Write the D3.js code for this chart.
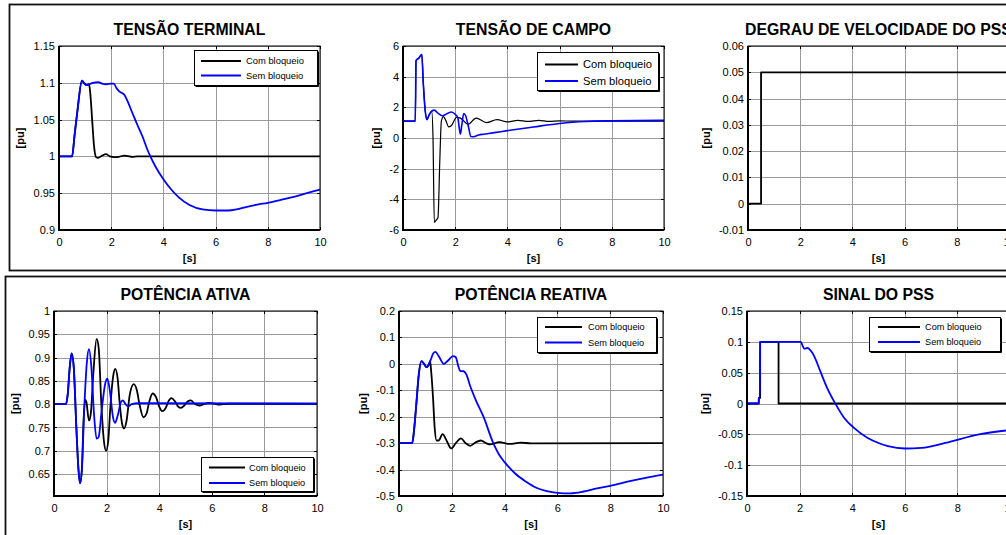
<!DOCTYPE html>
<html>
<head>
<meta charset="utf-8">
<script src="https://cdn.jsdelivr.net/npm/d3@7/dist/d3.min.js"></script>
<style>
  body { margin: 0; background: #fff; }
  svg { display: block; font-family: Arial, "Liberation Sans", sans-serif; }
</style>
</head>
<body>
<svg id="chart" width="1006" height="535"></svg>
<script>
// ---- data (time in s, value in pu) ----
const xTicks = [0, 2, 4, 6, 8, 10];
const legendNames = ["Com bloqueio", "Sem bloqueio"];

// Tensao terminal
const vtTicks = [0.9, 0.95, 1, 1.05, 1.1, 1.15];
const vtCom = [[0,1],[0.5,1],[0.6,1.03],[0.7,1.06],[0.88,1.103],[0.95,1.1],[1.05,1.097],[1.15,1.098],[1.2,1.085],
  [1.27,1.05],[1.34,1.015],[1.42,0.999],[1.5,0.998],[1.65,1.001],[1.8,1.003],[1.95,1.0],[2.1,0.999],[2.3,0.9995],
  [2.5,1.001],[2.65,1.0005],[2.8,0.9993],[3.0,1.0],[10,1.0]];
const vtSem = [[0,1],[0.5,1],[0.6,1.03],[0.7,1.06],[0.88,1.103],[0.95,1.1],[1.05,1.097],[1.15,1.098],[1.3,1.1],
  [1.5,1.101],[1.65,1.099],[1.8,1.098],[2.0,1.099],[2.1,1.099],[2.2,1.093],[2.32,1.088],[2.5,1.084],[2.6,1.077],
  [2.8,1.06],[3.0,1.043],[3.2,1.027],[3.4,1.008],[3.5,1.0],[3.7,0.986],[4.0,0.969],[4.3,0.955],[4.6,0.944],
  [5.0,0.934],[5.5,0.928],[6.0,0.9265],[6.5,0.9265],[6.8,0.928],[7.2,0.9315],[7.6,0.9345],[8.0,0.937],[8.5,0.941],
  [9.0,0.945],[9.5,0.95],[10,0.955]];

// Tensao de campo
const efdTicks = [-6, -4, -2, 0, 2, 4, 6];
const efdCom = [[0,1.1],[0.47,1.1],[0.5,5.05],[0.6,5.2],[0.72,5.45],[0.78,3.5],[0.85,1.8],[0.92,1.2],[1.0,1.5],
  [1.1,1.75],[1.15,0],[1.2,-5.5],[1.27,-5.35],[1.34,-5.2],[1.41,-1.5],[1.47,1.1],[1.55,1.4],[1.65,1.1],[1.75,0.72],
  [1.85,0.8],[2.05,1.35],[2.2,1.3],[2.5,0.9],[2.8,1.3],[3.2,1.0],[3.6,1.2],[4.0,1.05],[4.4,1.15],[4.8,1.08],
  [5.2,1.15],[5.6,1.08],[6.0,1.12],[6.5,1.1],[10,1.1]];
const efdSem = [[0,1.1],[0.47,1.1],[0.5,5.05],[0.6,5.2],[0.72,5.45],[0.78,3.5],[0.85,1.8],[0.92,1.2],[1.0,1.5],
  [1.2,1.82],[1.35,1.6],[1.5,1.45],[1.7,1.6],[1.85,1.7],[2.0,1.55],[2.1,1.33],[2.16,0.6],[2.2,0.25],[2.25,0.8],
  [2.33,1.6],[2.4,1.45],[2.5,0.8],[2.6,0.1],[2.7,0.08],[2.9,0.2],[3.1,0.25],[3.5,0.35],[4,0.48],[5,0.72],
  [6,0.95],[6.5,1.03],[7,1.08],[8,1.12],[10,1.15]];

// Degrau de velocidade do PSS
const stepTicks = [-0.01, 0, 0.01, 0.02, 0.03, 0.04, 0.05, 0.06];
const stepSpeed = [[0,0],[0.5,0],[0.5,0.05],[10,0.05]];

// Potencia ativa
const peTicks = [0.65, 0.7, 0.75, 0.8, 0.85, 0.9, 0.95, 1];
const peCom = [[0,0.8],[0.45,0.8],[0.52,0.82],[0.6,0.88],[0.67,0.909],[0.75,0.88],[0.85,0.75],[0.93,0.66],
  [0.99,0.63],[1.06,0.66],[1.12,0.76],[1.18,0.81],[1.23,0.805],[1.33,0.765],[1.4,0.78],[1.5,0.87],[1.62,0.94],
  [1.7,0.92],[1.8,0.8],[1.9,0.72],[1.98,0.7],[2.06,0.72],[2.15,0.8],[2.25,0.86],[2.33,0.876],[2.42,0.855],
  [2.5,0.8],[2.6,0.755],[2.67,0.748],[2.76,0.765],[2.88,0.82],[3.03,0.843],[3.15,0.83],[3.25,0.8],[3.4,0.772],
  [3.52,0.78],[3.62,0.805],[3.75,0.823],[3.88,0.815],[4.0,0.795],[4.12,0.785],[4.25,0.792],[4.35,0.806],
  [4.47,0.813],[4.6,0.806],[4.72,0.795],[4.83,0.792],[4.95,0.797],[5.08,0.806],[5.2,0.808],[5.35,0.801],
  [5.53,0.797],[5.7,0.8],[5.9,0.803],[6.1,0.801],[6.3,0.799],[6.6,0.801],[10,0.801]];
const peSem = [[0,0.8],[0.45,0.8],[0.52,0.82],[0.6,0.88],[0.67,0.909],[0.75,0.88],[0.85,0.75],[0.93,0.66],
  [0.99,0.63],[1.06,0.66],[1.15,0.79],[1.25,0.89],[1.33,0.918],[1.42,0.88],[1.52,0.78],[1.62,0.726],[1.7,0.73],
  [1.8,0.78],[1.95,0.845],[2.03,0.855],[2.12,0.83],[2.25,0.77],[2.32,0.76],[2.42,0.775],[2.55,0.805],[2.62,0.808],
  [2.72,0.8],[2.82,0.795],[2.95,0.8],[3.2,0.802],[10,0.801]];

// Potencia reativa
const qeTicks = [-0.5, -0.4, -0.3, -0.2, -0.1, 0, 0.1, 0.2];
const qeCom = [[0,-0.3],[0.5,-0.3],[0.55,-0.27],[0.65,-0.16],[0.75,-0.04],[0.85,0.01],[0.95,0.0],[1.04,-0.012],
  [1.12,-0.005],[1.18,0.01],[1.22,-0.03],[1.29,-0.13],[1.35,-0.24],[1.42,-0.29],[1.5,-0.29],[1.65,-0.266],
  [1.8,-0.29],[1.98,-0.32],[2.15,-0.3],[2.35,-0.282],[2.52,-0.3],[2.7,-0.31],[2.9,-0.297],[3.1,-0.29],[3.3,-0.3],
  [3.45,-0.305],[3.8,-0.296],[4.2,-0.303],[4.6,-0.298],[5.0,-0.301],[10,-0.3]];
const qeSem = [[0,-0.3],[0.5,-0.3],[0.55,-0.27],[0.65,-0.16],[0.75,-0.04],[0.85,0.01],[0.95,0.0],[1.04,-0.012],
  [1.12,-0.005],[1.2,0.015],[1.3,0.04],[1.38,0.045],[1.5,0.03],[1.7,0.0],[1.85,0.012],[2.05,0.029],[2.15,0.025],
  [2.25,-0.01],[2.32,-0.027],[2.45,-0.028],[2.55,-0.04],[2.7,-0.085],[2.9,-0.135],[3.2,-0.2],[3.56,-0.297],
  [3.8,-0.345],[4.0,-0.372],[4.4,-0.415],[4.8,-0.445],[5.2,-0.469],[5.6,-0.482],[6.0,-0.488],[6.5,-0.49],
  [7.0,-0.483],[7.5,-0.471],[8,-0.462],[8.7,-0.445],[9.3,-0.432],[10,-0.419]];

// Sinal do PSS
const vsTicks = [-0.15, -0.1, -0.05, 0, 0.05, 0.1, 0.15];
const vsCom = [[0,0],[0.45,0],[0.45,0.009],[0.5,0.009],[0.5,0.1],[1.2,0.1],[1.2,0],[10,0]];
const vsSem = [[0,0],[0.44,0],[0.45,0.009],[0.49,0.009],[0.5,0.1],[2.05,0.1],[2.12,0.093],[2.18,0.089],[2.3,0.09],
  [2.4,0.087],[2.54,0.078],[2.79,0.052],[3.05,0.025],[3.37,-0.001],[3.69,-0.023],[4.08,-0.04],[4.59,-0.056],
  [5.0,-0.064],[5.36,-0.069],[6.0,-0.073],[6.64,-0.072],[7.54,-0.064],[8.82,-0.05],[10,-0.043]];

// ---- layout ----
const svg = d3.select("#chart");
const BLUE = "#0000ff", BLACK = "#000000";

// the two framed groups of subplots
svg.append("rect").attr("x", 9.5).attr("y", 4.5).attr("width", 1020).attr("height", 266)
  .attr("fill", "none").attr("stroke", "#111").attr("stroke-width", 1.8);
svg.append("rect").attr("x", 5.5).attr("y", 276.5).attr("width", 1020).attr("height", 280)
  .attr("fill", "none").attr("stroke", "#111").attr("stroke-width", 1.8);

const panels = [
  { title: "TENSÃO TERMINAL", x0: 59, x1: 320, y0: 46, y1: 230, yDomain: [0.9, 1.15], yTicks: vtTicks,
    series: [{ d: vtCom, c: BLACK, w: 1.8 }, { d: vtSem, c: BLUE, w: 1.8 }],
    legend: { x: 194, y: 50, w: 123, h: 35, fs: 9.4, l0: 7, l1: 47, tx: 52, r0: 11, r1: 25.5 } },
  { title: "TENSÃO DE CAMPO", x0: 403, x1: 664, y0: 46, y1: 230, yDomain: [-6, 6], yTicks: efdTicks,
    series: [{ d: efdCom, c: BLACK, w: 1.2 }, { d: efdSem, c: BLUE, w: 1.6 }],
    legend: { x: 537, y: 52, w: 121, h: 38, fs: 11.2, l0: 8, l1: 41, tx: 46, r0: 12.5, r1: 29 } },
  { title: "DEGRAU DE VELOCIDADE DO PSS", x0: 748, x1: 1009, y0: 46, y1: 230, yDomain: [-0.01, 0.06], yTicks: stepTicks,
    series: [{ d: stepSpeed, c: BLACK, w: 1.8, step: true }], legend: null },
  { title: "POTÊNCIA ATIVA", x0: 54, x1: 317, y0: 311, y1: 496, yDomain: [0.603, 1], yTicks: peTicks,
    series: [{ d: peCom, c: BLACK, w: 1.8 }, { d: peSem, c: BLUE, w: 1.8 }],
    legend: { x: 201, y: 457, w: 112, h: 34, fs: 9.2, l0: 8, l1: 44, tx: 48, r0: 10.5, r1: 26 } },
  { title: "POTÊNCIA REATIVA", x0: 399, x1: 663, y0: 311, y1: 496, yDomain: [-0.5, 0.2], yTicks: qeTicks,
    series: [{ d: qeCom, c: BLACK, w: 1.8 }, { d: qeSem, c: BLUE, w: 1.8 }],
    legend: { x: 537, y: 317, w: 119, h: 35, fs: 9.2, l0: 8, l1: 45, tx: 51, r0: 10, r1: 25.5 } },
  { title: "SINAL DO PSS", x0: 747, x1: 1010, y0: 311, y1: 496, yDomain: [-0.15, 0.15], yTicks: vsTicks,
    series: [{ d: vsCom, c: BLACK, w: 1.8, step: true }, { d: vsSem, c: BLUE, w: 1.8 }],
    legend: { x: 869, y: 317, w: 131, h: 34, fs: 9.2, l0: 9, l1: 51, tx: 56, r0: 10, r1: 25 } }
];

const fmt = d => String(+d.toFixed(3));

panels.forEach((p, i) => {
  const x = d3.scaleLinear().domain([0, 10]).range([p.x0, p.x1]);
  const y = d3.scaleLinear().domain(p.yDomain).range([p.y1, p.y0]);
  const g = svg.append("g");

  g.append("clipPath").attr("id", "clip" + i)
    .append("rect").attr("x", p.x0).attr("y", p.y0).attr("width", p.x1 - p.x0).attr("height", p.y1 - p.y0);

  // grid
  g.append("g").selectAll("line").data(xTicks).join("line")
    .attr("x1", d => Math.round(x(d)) + 0.5).attr("x2", d => Math.round(x(d)) + 0.5)
    .attr("y1", p.y0).attr("y2", p.y1)
    .attr("stroke", "#9a9a9a").attr("stroke-width", 1);
  g.append("g").selectAll("line").data(p.yTicks).join("line")
    .attr("y1", d => Math.round(y(d)) + 0.5).attr("y2", d => Math.round(y(d)) + 0.5)
    .attr("x1", p.x0).attr("x2", p.x1)
    .attr("stroke", "#9a9a9a").attr("stroke-width", 1);

  // inner tick marks on all four sides
  const tk = g.append("g").attr("stroke", "#000").attr("stroke-width", 1);
  xTicks.forEach(d => {
    const px = Math.round(x(d)) + 0.5;
    tk.append("line").attr("x1", px).attr("x2", px).attr("y1", p.y1).attr("y2", p.y1 - 3);
    tk.append("line").attr("x1", px).attr("x2", px).attr("y1", p.y0).attr("y2", p.y0 + 3);
  });
  p.yTicks.forEach(d => {
    const py = Math.round(y(d)) + 0.5;
    tk.append("line").attr("y1", py).attr("y2", py).attr("x1", p.x0).attr("x2", p.x0 + 3);
    tk.append("line").attr("y1", py).attr("y2", py).attr("x1", p.x1).attr("x2", p.x1 - 3);
  });

  // data lines (black first, blue on top)
  const smooth = d3.line().x(d => x(d[0])).y(d => y(d[1])).curve(d3.curveMonotoneX);
  const straight = d3.line().x(d => x(d[0])).y(d => y(d[1]));
  g.append("g").attr("clip-path", `url(#clip${i})`)
    .selectAll("path").data(p.series).join("path")
    .attr("d", s => (s.step ? straight : smooth)(s.d))
    .attr("fill", "none").attr("stroke", s => s.c).attr("stroke-width", s => s.w)
    .attr("stroke-linejoin", "round");

  // axes box
  g.append("rect").attr("x", p.x0).attr("y", p.y0).attr("width", p.x1 - p.x0).attr("height", p.y1 - p.y0)
    .attr("fill", "none").attr("stroke", "#000").attr("stroke-width", 1);
  g.append("path").attr("d", `M${p.x0},${p.y0}V${p.y1}H${p.x1}`)
    .attr("fill", "none").attr("stroke", "#000").attr("stroke-width", 2);

  // tick labels
  const xAxis = d3.axisBottom(x).tickValues(xTicks).tickSize(0).tickPadding(8).tickFormat(fmt);
  const ax = g.append("g").attr("transform", `translate(0,${p.y1})`).call(xAxis);
  const yAxis = d3.axisLeft(y).tickValues(p.yTicks).tickSize(0).tickPadding(4).tickFormat(fmt);
  const ay = g.append("g").attr("transform", `translate(${p.x0},0)`).call(yAxis);
  [ax, ay].forEach(a => {
    a.select(".domain").remove();
    a.selectAll("text").attr("fill", "#000").style("font-size", "11px")
      .style("font-family", 'Arial, "Liberation Sans", sans-serif');
  });

  // axis labels
  let minX = p.x0;
  ay.selectAll("text").each(function () { minX = Math.min(minX, this.getBBox().x + p.x0); });
  g.append("text").attr("transform", `translate(${minX - 13},${(p.y0 + p.y1) / 2}) rotate(-90)`)
    .attr("text-anchor", "middle").attr("dy", "0.35em")
    .style("font-size", "11px").style("font-weight", "bold").text("[pu]");
  g.append("text").attr("x", (p.x0 + p.x1) / 2).attr("y", p.y1 + 28)
    .attr("text-anchor", "middle").attr("dy", "0.35em")
    .style("font-size", "11px").style("font-weight", "bold").text("[s]");

  // title
  g.append("text").attr("x", (p.x0 + p.x1) / 2).attr("y", p.y0 - 11)
    .attr("text-anchor", "middle").style("font-size", "15.8px").style("font-weight", "bold").text(p.title);

  // legend
  if (p.legend) {
    const L = p.legend;
    const lg = g.append("g").attr("transform", `translate(${L.x},${L.y})`);
    lg.append("rect").attr("x", 0.5).attr("y", 0.5).attr("width", L.w).attr("height", L.h)
      .attr("fill", "#fff").attr("stroke", "#000").attr("stroke-width", 1);
    lg.append("path").attr("d", `M1.5,${L.h + 1.5}H${L.w + 1.5}V1.5`)
      .attr("fill", "none").attr("stroke", "#000").attr("stroke-width", 1);
    p.series.forEach((s, k) => {
      const ry = k === 0 ? L.r0 : L.r1;
      lg.append("line").attr("x1", L.l0).attr("x2", L.l1).attr("y1", ry).attr("y2", ry)
        .attr("stroke", s.c).attr("stroke-width", 1.8);
      lg.append("text").attr("x", L.tx).attr("y", ry).attr("dy", "0.35em")
        .style("font-size", L.fs + "px").text(legendNames[k]);
    });
  }
});
</script>
</body>
</html>
